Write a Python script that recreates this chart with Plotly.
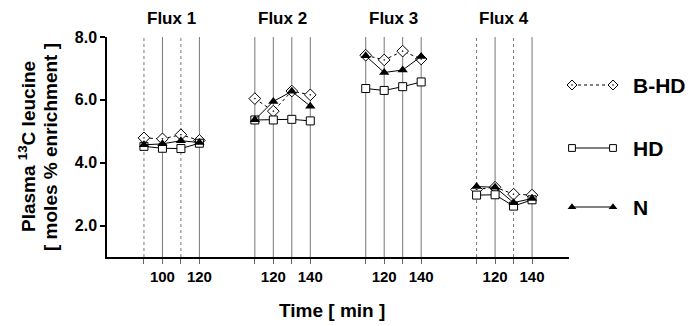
import plotly.graph_objects as go

# ---------------- data ----------------
fluxes = ["Flux 1", "Flux 2", "Flux 3", "Flux 4"]
times = [[90, 100, 110, 120], [110, 120, 130, 140], [110, 120, 130, 140], [110, 120, 130, 140]]
labelled_times = [[100, 120], [120, 140], [120, 140], [120, 140]]
dotted_times = [[90, 110], [], [], [110, 130]]

bhd = [[4.79, 4.76, 4.89, 4.71], [6.04, 5.64, 6.28, 6.16], [7.42, 7.27, 7.55, 7.30], [3.15, 3.22, 3.00, 2.97]]
hd = [[4.52, 4.46, 4.45, 4.62], [5.36, 5.36, 5.38, 5.33], [6.36, 6.30, 6.42, 6.57], [2.97, 2.98, 2.62, 2.82]]
nn = [[4.57, 4.60, 4.70, 4.64], [5.37, 5.95, 6.27, 5.80], [7.40, 6.87, 6.95, 7.38], [3.24, 3.22, 2.73, 2.86]]

y_ticks = [2.0, 4.0, 6.0, 8.0]
series_names = ["B-HD", "HD", "N"]

FONT = "Liberation Sans, Arial, sans-serif"
GAP = 6  # slots between the starts of two flux groups

# page body has an 8px default margin: lay the figure out in page pixels minus 8
OFF = 8


def positions():
    xs = []
    for g, t in enumerate(times):
        xs.append([GAP * g + i for i in range(len(t))])
    return xs


XS = positions()


def build_xy(values):
    x, y = [], []
    for g, vals in enumerate(values):
        x += XS[g] + [None]
        y += vals + [None]
    return x, y


def style(name, scale=1.0):
    sizes = {"B-HD": 9, "HD": 8, "N": 9}
    s = sizes[name] * scale
    if name == "B-HD":
        return dict(line=dict(color="black", width=1, dash="dot"),
                    marker=dict(symbol="diamond-dot", size=s, color="white",
                                line=dict(color="black", width=1)))
    if name == "HD":
        return dict(line=dict(color="black", width=1),
                    marker=dict(symbol="square", size=s, color="white",
                                line=dict(color="black", width=1)))
    return dict(line=dict(color="black", width=1),
                marker=dict(symbol="triangle-up", size=s, color="black",
                            line=dict(color="black", width=0)))


fig = go.Figure()

for name, vals in zip(series_names, [bhd, hd, nn]):
    x, y = build_xy(vals)
    fig.add_trace(go.Scatter(x=x, y=y, mode="lines+markers", name=name,
                             showlegend=False, connectgaps=False,
                             xaxis="x", yaxis="y", **style(name)))

# vertical reference lines at every sampling time
for g, t in enumerate(times):
    for i, tv in enumerate(t):
        dotted = tv in dotted_times[g]
        fig.add_shape(type="line", xref="x", yref="paper",
                      x0=XS[g][i], x1=XS[g][i], y0=0, y1=1,
                      line=dict(color="#777777", width=1,
                                dash="dot" if dotted else "solid"),
                      layer="below")

# flux titles
for g, name in enumerate(fluxes):
    fig.add_annotation(x=(XS[g][0] + XS[g][-1]) / 2, y=1, xref="x", yref="paper",
                       text=f"<b>{name}</b>", showarrow=False, yanchor="middle",
                       yshift=19, font=dict(family=FONT, size=17, color="black"))

# tick values / labels
all_ticks, tickvals, ticktext = [], [], []
for g, t in enumerate(times):
    for i, tv in enumerate(t):
        all_ticks.append(XS[g][i])
        if tv in labelled_times[g]:
            tickvals.append(XS[g][i])
            ticktext.append(f"<b>{tv}</b>")

# page-pixel geometry
PAGE_W, PAGE_H = 697, 326
W, H = PAGE_W - OFF, PAGE_H - OFF
PLOT_L, PLOT_R, PLOT_T, PLOT_B = 107, 569, 37, 257  # page pixels of main axes
ML = PLOT_L - OFF
MT = PLOT_T - OFF
MR = 0
MB = PAGE_H - PLOT_B
plot_w = W - ML - MR
main_w = PLOT_R - PLOT_L
dom = main_w / plot_w

# legend drawn on a helper axis whose units are page pixels
leg_rows = [85, 148, 207]
for name, ry in zip(series_names, leg_rows):
    fig.add_trace(go.Scatter(x=[572, 613], y=[ry, ry], mode="lines+markers",
                             showlegend=False, xaxis="x2", yaxis="y2",
                             hoverinfo="skip", cliponaxis=False,
                             **style(name, 0.85)))
    fig.add_annotation(x=631, y=ry, xref="x2", yref="y2", text=f"<b>{name}</b>",
                       showarrow=False, xanchor="left", yanchor="middle",
                       font=dict(family=FONT, size=21, color="black"))

# axis titles
fig.add_annotation(x=0, y=0.5, xref="paper", yref="paper",
                   text="<b>Plasma <sup>13</sup>C leucine</b>", textangle=-90,
                   showarrow=False, xanchor="center", yanchor="middle",
                   xshift=27 - PLOT_L,
                   font=dict(family=FONT, size=19, color="black"))
fig.add_annotation(x=0, y=0.5, xref="paper", yref="paper",
                   text="<b>[ moles % enrichment ]</b>", textangle=-90,
                   showarrow=False, xanchor="center", yanchor="middle",
                   xshift=50 - PLOT_L,
                   font=dict(family=FONT, size=19, color="black"))
fig.add_annotation(x=(332 - PLOT_L) / plot_w, y=0, xref="paper", yref="paper",
                   text="<b>Time [ min ]</b>", showarrow=False,
                   xanchor="center", yanchor="middle", yshift=-(310 - PLOT_B),
                   font=dict(family=FONT, size=19, color="black"))

fig.update_layout(
    width=W, height=H,
    margin=dict(l=ML, r=MR, t=MT, b=MB, pad=0),
    paper_bgcolor="white", plot_bgcolor="white",
    showlegend=False,
    font=dict(family=FONT, color="black"),
    xaxis=dict(domain=[0, dom], range=[-2, 23], showgrid=False, zeroline=False,
               showline=True, linecolor="black", linewidth=1.5,
               ticks="outside", ticklen=5, tickcolor="#666666", tickwidth=1,
               tickmode="array", tickvals=tickvals, ticktext=ticktext,
               minor=dict(tickmode="array", tickvals=all_ticks, ticks="outside",
                          ticklen=5, tickcolor="#666666", tickwidth=1, showgrid=False),
               tickfont=dict(family=FONT, size=15, color="black"),
               anchor="y"),
    yaxis=dict(domain=[0, 1], range=[1.0, 8.0], showgrid=False, zeroline=False,
               showline=True, linecolor="black", linewidth=1.5,
               ticks="outside", ticklen=5, tickcolor="black", tickwidth=1.5,
               tickvals=y_ticks, ticktext=[f"<b>{v:.1f}</b>" for v in y_ticks],
               tickfont=dict(family=FONT, size=16, color="black"),
               anchor="x"),
    xaxis2=dict(domain=[dom, 1], range=[PLOT_R, PAGE_W], visible=False,
                fixedrange=True, anchor="y2"),
    yaxis2=dict(domain=[0, 1], range=[PLOT_B, PLOT_T], visible=False,
                fixedrange=True, anchor="x2"),
)

fig.write_html("out.html")
